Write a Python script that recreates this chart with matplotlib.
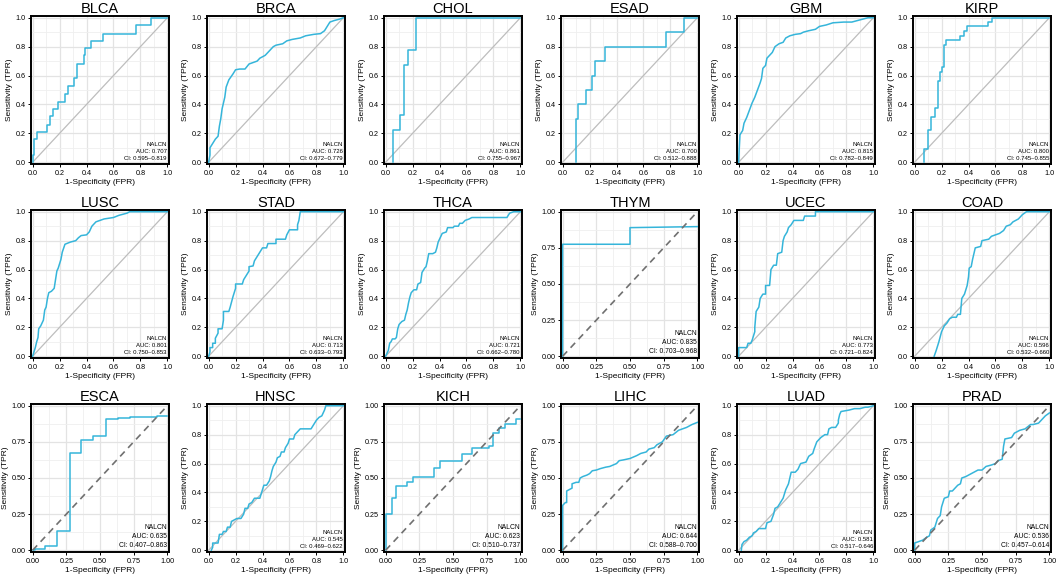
#!/usr/bin/env python3
import matplotlib
matplotlib.use('Agg')
import matplotlib.pyplot as plt
from matplotlib.ticker import MultipleLocator, FormatStrFormatter

plt.rcParams['font.family'] = ['Liberation Sans', 'DejaVu Sans']

gene = 'NALCN'

cancers = ['BLCA', 'BRCA', 'CHOL', 'ESAD', 'GBM', 'KIRP',
           'LUSC', 'STAD', 'THCA', 'THYM', 'UCEC', 'COAD',
           'ESCA', 'HNSC', 'KICH', 'LIHC', 'LUAD', 'PRAD']

auc = [0.707, 0.726, 0.861, 0.700, 0.815, 0.800,
       0.801, 0.713, 0.721, 0.835, 0.773, 0.596,
       0.635, 0.545, 0.623, 0.644, 0.581, 0.536]

ci_low = [0.595, 0.672, 0.755, 0.512, 0.782, 0.745,
          0.750, 0.633, 0.662, 0.703, 0.721, 0.532,
          0.407, 0.469, 0.510, 0.588, 0.517, 0.457]
ci_high = [0.819, 0.779, 0.967, 0.888, 0.849, 0.855,
           0.853, 0.793, 0.780, 0.968, 0.824, 0.660,
           0.863, 0.622, 0.737, 0.700, 0.646, 0.614]

# panels drawn with the dashed reference line and 0.25 ticks
dashed_panels = ['THYM', 'ESCA', 'KICH', 'LIHC', 'PRAD']
# panels whose points are stair corners (steps-post)
step_panels = ['BLCA', 'CHOL', 'ESAD', 'KIRP', 'ESCA', 'KICH']

fpr = {}
tpr = {}

fpr['BLCA'] = [0, 0.005, 0.01, 0.03, 0.11, 0.13, 0.15, 0.19, 0.24, 0.26, 0.31, 0.33, 0.38, 0.39, 0.43, 0.52, 0.77, 0.88, 1.0]
tpr['BLCA'] = [0, 0.05, 0.16, 0.21, 0.26, 0.32, 0.37, 0.42, 0.47, 0.53, 0.58, 0.68, 0.74, 0.79, 0.84, 0.89, 0.95, 1.0, 1.0]

fpr['BRCA'] = [0, 0.01, 0.01, 0.03, 0.05, 0.07, 0.08, 0.09, 0.1, 0.12, 0.13, 0.15, 0.18, 0.2, 0.23, 0.27, 0.3, 0.33,
               0.36, 0.38, 0.42, 0.45, 0.48, 0.5, 0.55, 0.58, 0.62, 0.68, 0.72, 0.78, 0.83, 0.86, 0.88, 0.9, 0.93, 0.97, 1.0]
tpr['BRCA'] = [0, 0.05, 0.1, 0.13, 0.16, 0.18, 0.25, 0.3, 0.37, 0.45, 0.52, 0.57, 0.61, 0.64, 0.645, 0.645, 0.68, 0.69,
               0.7, 0.72, 0.74, 0.77, 0.8, 0.81, 0.82, 0.84, 0.85, 0.86, 0.875, 0.885, 0.89, 0.91, 0.94, 0.97, 0.98, 0.99, 1.0]

fpr['CHOL'] = [0.056, 0.056, 0.11, 0.14, 0.165, 0.225, 1.0]
tpr['CHOL'] = [0, 0.22, 0.33, 0.67, 0.78, 1.0, 1.0]

fpr['ESAD'] = [0.1, 0.1, 0.113, 0.176, 0.218, 0.24, 0.318, 0.77, 0.897, 1.0]
tpr['ESAD'] = [0, 0.3, 0.4, 0.5, 0.6, 0.7, 0.8, 0.9, 1.0, 1.0]

fpr['GBM'] = [0, 0.005, 0.01, 0.03, 0.04, 0.06, 0.08, 0.1, 0.12, 0.14, 0.16, 0.17, 0.18, 0.2, 0.21, 0.23, 0.25, 0.27,
              0.3, 0.33, 0.35, 0.38, 0.42, 0.46, 0.48, 0.52, 0.57, 0.6, 0.65, 0.7, 0.78, 0.84, 0.88, 0.92, 0.96, 1.0]
tpr['GBM'] = [0, 0.1, 0.19, 0.22, 0.27, 0.31, 0.36, 0.41, 0.45, 0.5, 0.55, 0.58, 0.65, 0.67, 0.72, 0.74, 0.76, 0.8,
              0.82, 0.83, 0.86, 0.875, 0.885, 0.89, 0.9, 0.91, 0.92, 0.94, 0.95, 0.965, 0.97, 0.97, 0.98, 0.99, 1.0, 1.0]

fpr['KIRP'] = [0.07, 0.07, 0.097, 0.12, 0.15, 0.17, 0.19, 0.206, 0.218, 0.235, 0.34, 0.37, 0.39, 0.545, 0.575, 1.0]
tpr['KIRP'] = [0, 0.09, 0.22, 0.31, 0.375, 0.56, 0.625, 0.66, 0.81, 0.845, 0.875, 0.905, 0.94, 0.97, 1.0, 1.0]

fpr['LUSC'] = [0, 0.01, 0.02, 0.03, 0.04, 0.045, 0.06, 0.08, 0.09, 0.1, 0.11, 0.12, 0.14, 0.16, 0.17, 0.18, 0.19,
               0.21, 0.22, 0.24, 0.28, 0.32, 0.34, 0.36, 0.4, 0.42, 0.44, 0.47, 0.53, 0.6, 0.64, 0.7, 0.72, 1.0]
tpr['LUSC'] = [0, 0.03, 0.06, 0.1, 0.13, 0.19, 0.21, 0.25, 0.32, 0.34, 0.4, 0.44, 0.45, 0.47, 0.53, 0.59, 0.61,
               0.67, 0.72, 0.775, 0.79, 0.8, 0.82, 0.835, 0.84, 0.86, 0.9, 0.93, 0.95, 0.96, 0.975, 0.99, 1.0, 1.0]

fpr['STAD'] = [0, 0.01, 0.01, 0.03, 0.03, 0.05, 0.05, 0.07, 0.07, 0.1, 0.11, 0.11, 0.15, 0.16, 0.17, 0.18, 0.19, 0.2,
               0.2, 0.25, 0.26, 0.28, 0.3, 0.3, 0.33, 0.34, 0.36, 0.38, 0.4, 0.43, 0.44, 0.5, 0.5, 0.57, 0.58, 0.6,
               0.66, 0.66, 0.67, 0.68, 1.0]
tpr['STAD'] = [0, 0.03, 0.06, 0.06, 0.09, 0.09, 0.125, 0.16, 0.19, 0.19, 0.25, 0.31, 0.31, 0.34, 0.375, 0.41, 0.44,
               0.47, 0.5, 0.5, 0.53, 0.56, 0.59, 0.62, 0.625, 0.66, 0.69, 0.72, 0.75, 0.75, 0.78, 0.78, 0.81, 0.81,
               0.84, 0.875, 0.875, 0.91, 0.94, 1.0, 1.0]

fpr['THCA'] = [0, 0.01, 0.02, 0.03, 0.04, 0.05, 0.07, 0.08, 0.09, 0.1, 0.12, 0.14, 0.15, 0.16, 0.17, 0.18, 0.19,
               0.21, 0.23, 0.24, 0.26, 0.27, 0.29, 0.3, 0.31, 0.32, 0.35, 0.37, 0.38, 0.39, 0.41, 0.42, 0.45, 0.46,
               0.5, 0.51, 0.54, 0.55, 0.57, 0.59, 0.62, 0.64, 0.9, 0.92, 0.95, 1.0]
tpr['THCA'] = [0, 0.02, 0.04, 0.09, 0.1, 0.12, 0.12, 0.13, 0.19, 0.22, 0.24, 0.25, 0.29, 0.32, 0.37, 0.41, 0.44,
               0.46, 0.46, 0.5, 0.51, 0.58, 0.61, 0.62, 0.66, 0.71, 0.71, 0.72, 0.75, 0.79, 0.83, 0.85, 0.86, 0.89,
               0.89, 0.9, 0.9, 0.92, 0.92, 0.94, 0.95, 0.96, 0.96, 0.99, 1.0, 1.0]

fpr['THYM'] = [0, 0, 0.5, 0.5, 1.0]
tpr['THYM'] = [0, 0.775, 0.775, 0.89, 0.897]

fpr['UCEC'] = [0, 0, 0.06, 0.07, 0.09, 0.1, 0.11, 0.12, 0.12, 0.13, 0.15, 0.16, 0.18, 0.2, 0.2, 0.23, 0.24, 0.26,
               0.28, 0.29, 0.32, 0.33, 0.34, 0.36, 0.37, 0.39, 0.41, 0.48, 0.49, 0.57, 0.57, 1.0]
tpr['UCEC'] = [0, 0.06, 0.06, 0.09, 0.09, 0.11, 0.14, 0.17, 0.2, 0.31, 0.34, 0.4, 0.43, 0.43, 0.49, 0.49, 0.6, 0.63,
               0.63, 0.71, 0.72, 0.8, 0.83, 0.86, 0.89, 0.91, 0.94, 0.94, 0.97, 0.97, 1.0, 1.0]

fpr['COAD'] = [0.145, 0.16, 0.18, 0.2, 0.22, 0.24, 0.26, 0.28, 0.31, 0.32, 0.34, 0.35, 0.37, 0.38, 0.39, 0.4, 0.405,
               0.42, 0.43, 0.44, 0.45, 0.49, 0.5, 0.55, 0.57, 0.6, 0.63, 0.66, 0.68, 0.71, 0.73, 0.75, 0.77, 0.8,
               0.83, 1.0]
tpr['COAD'] = [0, 0.04, 0.1, 0.17, 0.21, 0.23, 0.26, 0.27, 0.27, 0.29, 0.29, 0.4, 0.43, 0.46, 0.49, 0.55, 0.61,
               0.62, 0.67, 0.71, 0.75, 0.76, 0.8, 0.81, 0.83, 0.84, 0.85, 0.87, 0.9, 0.91, 0.93, 0.94, 0.95, 0.98,
               1.0, 1.0]

fpr['ESCA'] = [0, 0.02, 0.09, 0.18, 0.275, 0.36, 0.45, 0.545, 0.63, 0.72, 0.92, 1.0]
tpr['ESCA'] = [0, 0.01, 0.03, 0.135, 0.67, 0.76, 0.79, 0.905, 0.915, 0.925, 0.93, 0.93]

fpr['HNSC'] = [0.02, 0.03, 0.03, 0.07, 0.08, 0.1, 0.11, 0.13, 0.14, 0.16, 0.17, 0.19, 0.21, 0.24, 0.26, 0.27, 0.29,
               0.3, 0.32, 0.34, 0.38, 0.4, 0.41, 0.43, 0.45, 0.46, 0.47, 0.48, 0.5, 0.51, 0.53, 0.54, 0.56, 0.57,
               0.59, 0.6, 0.63, 0.64, 0.66, 0.68, 0.76, 0.78, 0.8, 0.82, 0.84, 0.85, 0.86, 0.87, 1.0]
tpr['HNSC'] = [0, 0.02, 0.05, 0.05, 0.11, 0.11, 0.13, 0.13, 0.16, 0.16, 0.2, 0.21, 0.22, 0.22, 0.25, 0.29, 0.29,
               0.32, 0.33, 0.36, 0.36, 0.42, 0.45, 0.45, 0.48, 0.51, 0.55, 0.58, 0.61, 0.64, 0.65, 0.68, 0.68, 0.71,
               0.74, 0.77, 0.77, 0.8, 0.82, 0.84, 0.84, 0.87, 0.9, 0.92, 0.93, 0.95, 0.97, 1.0, 1.0]

fpr['KICH'] = [0, 0, 0.044, 0.08, 0.08, 0.16, 0.2, 0.36, 0.4, 0.57, 0.64, 0.77, 0.8, 0.84, 0.885, 0.965, 1.0]
tpr['KICH'] = [0, 0.25, 0.36, 0.37, 0.445, 0.475, 0.51, 0.57, 0.615, 0.665, 0.71, 0.72, 0.81, 0.845, 0.875, 0.905, 0.905]

fpr['LIHC'] = [0, 0, 0.01, 0.02, 0.03, 0.03, 0.05, 0.07, 0.07, 0.1, 0.12, 0.13, 0.15, 0.18, 0.2, 0.22, 0.25, 0.28,
               0.32, 0.35, 0.4, 0.42, 0.45, 0.5, 0.55, 0.58, 0.62, 0.64, 0.68, 0.7, 0.74, 0.77, 0.82, 0.86, 0.92,
               0.96, 1.0]
tpr['LIHC'] = [0, 0.31, 0.32, 0.33, 0.33, 0.41, 0.42, 0.43, 0.46, 0.47, 0.47, 0.5, 0.51, 0.52, 0.53, 0.55, 0.555,
               0.565, 0.575, 0.58, 0.6, 0.62, 0.625, 0.635, 0.655, 0.67, 0.68, 0.7, 0.71, 0.73, 0.75, 0.79, 0.8,
               0.83, 0.85, 0.87, 0.885]

fpr['LUAD'] = [0.02, 0.025, 0.04, 0.06, 0.08, 0.1, 0.11, 0.13, 0.15, 0.17, 0.2, 0.21, 0.24, 0.26, 0.27, 0.29, 0.31,
               0.33, 0.35, 0.37, 0.39, 0.42, 0.44, 0.46, 0.5, 0.52, 0.55, 0.56, 0.58, 0.61, 0.64, 0.66, 0.67, 0.69,
               0.72, 0.74, 0.74, 0.75, 0.76, 0.82, 0.86, 0.9, 0.94, 0.96, 1.0]
tpr['LUAD'] = [0, 0.04, 0.06, 0.07, 0.09, 0.1, 0.12, 0.13, 0.15, 0.15, 0.15, 0.19, 0.2, 0.25, 0.29, 0.3, 0.33,
               0.36, 0.42, 0.46, 0.54, 0.54, 0.56, 0.6, 0.61, 0.65, 0.67, 0.7, 0.75, 0.78, 0.8, 0.8, 0.84, 0.85,
               0.85, 0.88, 0.9, 0.94, 0.96, 0.97, 0.98, 0.98, 0.99, 0.99, 1.0]

fpr['PRAD'] = [0, 0, 0.03, 0.06, 0.09, 0.11, 0.12, 0.15, 0.17, 0.19, 0.2, 0.22, 0.25, 0.26, 0.28, 0.32, 0.34, 0.35,
               0.38, 0.42, 0.47, 0.5, 0.53, 0.57, 0.6, 0.62, 0.65, 0.66, 0.67, 0.72, 0.74, 0.78, 0.82, 0.86, 0.88,
               0.92, 0.95, 0.97, 1.0]
tpr['PRAD'] = [0, 0.05, 0.06, 0.07, 0.09, 0.1, 0.14, 0.16, 0.22, 0.24, 0.3, 0.36, 0.37, 0.41, 0.41, 0.45, 0.46, 0.5,
               0.51, 0.53, 0.555, 0.555, 0.58, 0.59, 0.6, 0.62, 0.63, 0.72, 0.77, 0.78, 0.81, 0.83, 0.84, 0.87, 0.87,
               0.88, 0.91, 0.93, 0.95]

W, H = 1059, 577
fig = plt.figure(figsize=(W / 100, H / 100), dpi=100)

col_left = [31, 207, 384, 561, 737, 913]
row_top = [16, 210, 404]
ax_w, ax_h = 138, 148

curve_color = '#35B5DA'

for i, name in enumerate(cancers):
	r, c = divmod(i, 6)
	ax = fig.add_axes([col_left[c] / W, 1 - (row_top[r] + ax_h) / H, ax_w / W, ax_h / H])
	dashed = name in dashed_panels

	if dashed:
		ax.plot([0, 1], [0, 1], color='#707070', lw=1.2, ls=(0, (4, 3)), zorder=3)
	else:
		ax.plot([0, 1], [0, 1], color='#BDBDBD', lw=0.9, zorder=1)
	ds = 'steps-post' if name in step_panels else 'default'
	ax.plot(fpr[name], tpr[name], color=curve_color, lw=1.1, drawstyle=ds, zorder=2)

	ax.set_xlim(-0.012, 1.012)
	ax.set_ylim(-0.012, 1.012)
	step = 0.25 if dashed else 0.2
	fmt = '%.2f' if dashed else '%.1f'
	for axis in (ax.xaxis, ax.yaxis):
		axis.set_major_locator(MultipleLocator(step))
		axis.set_minor_locator(MultipleLocator(step / 2))
		axis.set_major_formatter(FormatStrFormatter(fmt))
	ax.grid(True, which='major', color='#E3E3E3', lw=0.9)
	ax.grid(True, which='minor', color='#EFEFEF', lw=0.6)
	ax.set_axisbelow(True)
	ax.tick_params(which='major', direction='out', length=2.5, width=0.7, labelsize=5.2, pad=1.5, colors='black')
	ax.tick_params(which='minor', length=0)
	for s in ax.spines.values():
		s.set_linewidth(1.4)
		s.set_color('black')

	ax.set_title(name, fontsize=10.5, pad=2)
	ax.set_xlabel('1-Specificity (FPR)', fontsize=6, labelpad=1.5)
	ax.set_ylabel('Sensitivity (TPR)', fontsize=6, labelpad=2)

	note = '%s\nAUC: %.3f\nCI: %.3f\u2013%.3f' % (gene, auc[i], ci_low[i], ci_high[i])
	ax.text(0.985, 0.02, note, transform=ax.transAxes, ha='right', va='bottom',
	        fontsize=4.9 if dashed else 4.3, linespacing=1.45, zorder=4)

fig.savefig('out.png', dpi=100)
